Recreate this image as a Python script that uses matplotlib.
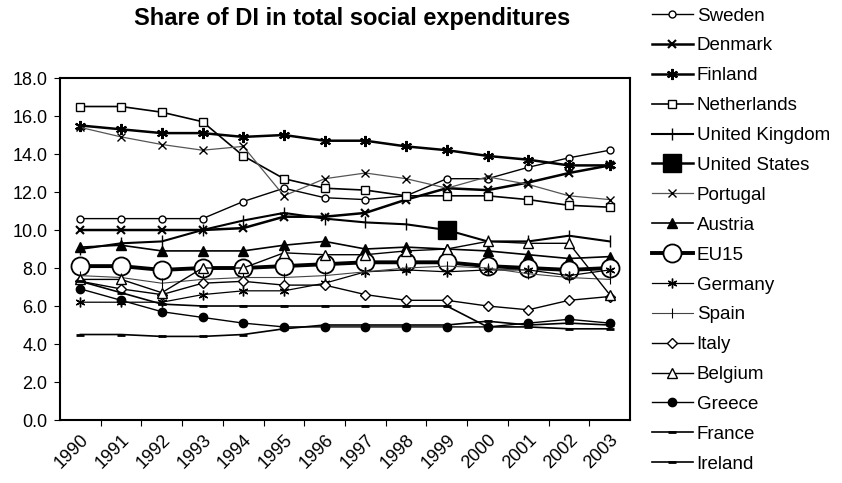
import matplotlib
matplotlib.use("Agg")
import matplotlib.pyplot as plt
import numpy as np

plt.rcParams['font.family'] = ['Liberation Sans', 'DejaVu Sans']

years = ['1990', '1991', '1992', '1993', '1994', '1995', '1996',
         '1997', '1998', '1999', '2000', '2001', '2002', '2003']

sweden = [10.6, 10.6, 10.6, 10.6, 11.5, 12.2, 11.7, 11.6, 11.8, 12.7, 12.7, 13.3, 13.8, 14.2]
denmark = [10.0, 10.0, 10.0, 10.0, 10.1, 10.7, 10.7, 10.9, 11.6, 12.2, 12.1, 12.5, 13.0, 13.4]
finland = [15.5, 15.3, 15.1, 15.1, 14.9, 15.0, 14.7, 14.7, 14.4, 14.2, 13.9, 13.7, 13.4, 13.4]
netherlands = [16.5, 16.5, 16.2, 15.7, 13.9, 12.7, 12.2, 12.1, 11.8, 11.8, 11.8, 11.6, 11.3, 11.2]
united_kingdom = [9.0, 9.3, 9.4, 10.0, 10.5, 10.9, 10.6, 10.4, 10.3, 10.0, 9.4, 9.4, 9.7, 9.4]
united_states = [np.nan] * 9 + [10.0] + [np.nan] * 4
portugal = [15.4, 14.9, 14.5, 14.2, 14.4, 11.8, 12.7, 13.0, 12.7, 12.2, 12.8, 12.4, 11.8, 11.6]
austria = [9.1, 9.2, 8.9, 8.9, 8.9, 9.2, 9.4, 9.0, 9.1, 9.0, 8.9, 8.7, 8.5, 8.6]
eu15 = [8.1, 8.1, 7.9, 8.0, 8.0, 8.1, 8.2, 8.3, 8.3, 8.3, 8.1, 8.0, 7.9, 8.0]
germany = [6.2, 6.2, 6.2, 6.6, 6.8, 6.8, 7.2, 7.8, 7.9, 7.8, 7.9, 7.9, 7.6, 7.9]
spain = [7.6, 7.5, 7.2, 7.4, 7.5, 7.5, 7.6, 7.8, 8.0, 8.1, 8.0, 7.7, 7.5, 7.4]
italy = [7.3, 6.9, 6.6, 7.2, 7.3, 7.1, 7.1, 6.6, 6.3, 6.3, 6.0, 5.8, 6.3, 6.5]
belgium = [7.4, 7.4, 6.7, 8.0, 8.0, 8.8, 8.7, 8.7, 8.9, 9.0, 9.4, 9.3, 9.3, 6.6]
greece = [6.9, 6.3, 5.7, 5.4, 5.1, 4.9, 4.9, 4.9, 4.9, 4.9, 4.9, 5.1, 5.3, 5.1]
france = [7.3, 6.7, 6.1, 6.0, 6.0, 6.0, 6.0, 6.0, 6.0, 6.0, 4.9, 4.9, 4.8, 4.8]
ireland = [4.5, 4.5, 4.4, 4.4, 4.5, 4.8, 5.0, 5.0, 5.0, 5.0, 5.2, 5.0, 5.1, 5.0]

asterisk = (6, 2, 0)

# name, values, style
series = [
    ('Sweden', sweden, dict(marker='o', ms=5, mfc='white', lw=1.0)),
    ('Denmark', denmark, dict(marker='x', ms=6, mew=1.5, lw=1.8)),
    ('Finland', finland, dict(marker=asterisk, ms=8, mew=1.5, lw=1.8)),
    ('Netherlands', netherlands, dict(marker='s', ms=6, mfc='white', lw=1.2)),
    ('United Kingdom', united_kingdom, dict(marker='|', ms=8, mew=1.0, lw=1.5)),
    ('United States', united_states, dict(marker='s', ms=13, mfc='black', lw=1.8)),
    ('Portugal', portugal, dict(marker='x', ms=6, mew=1.0, lw=0.9, color='#555555', mec='black')),
    ('Austria', austria, dict(marker='^', ms=7, mfc='black', lw=1.2)),
    ('EU15', eu15, dict(marker='o', ms=13, mfc='white', lw=2.8, mew=1.3)),
    ('Germany', germany, dict(marker=asterisk, ms=7, mew=1.0, lw=0.9)),
    ('Spain', spain, dict(marker='|', ms=7, mew=0.8, lw=0.8, color='#444444')),
    ('Italy', italy, dict(marker='D', ms=5, mfc='white', lw=1.0)),
    ('Belgium', belgium, dict(marker='^', ms=7, mfc='white', lw=1.0)),
    ('Greece', greece, dict(marker='o', ms=6, mfc='black', lw=1.0)),
    ('France', france, dict(marker='_', ms=6, mew=2.0, lw=1.2)),
    ('Ireland', ireland, dict(marker='_', ms=6, mew=2.0, lw=1.2)),
]

fig = plt.figure(figsize=(8.42, 4.83), dpi=100)
ax = fig.add_axes([0.0713, 0.1304, 0.6770, 0.7081])

x = np.arange(len(years))
for name, vals, style in series:
    kw = dict(color='black', mec='black')
    kw.update(style)
    ax.plot(x, vals, label=name, **kw)

ax.set_xlim(-0.5, len(years) - 0.5)
ax.set_ylim(0, 18)
ax.set_yticks(np.arange(0, 18.1, 2))
ax.set_yticklabels([f'{v:.1f}' for v in np.arange(0, 18.1, 2)], fontsize=13)

# tick marks between categories, labels centred on the points
ax.set_xticks(np.arange(0.5, len(years) - 0.5, 1))
ax.set_xticklabels([])
ax.set_xticks(x, minor=True)
ax.set_xticklabels(years, minor=True, rotation=45, ha='right', rotation_mode='anchor', fontsize=13)
ax.tick_params(axis='x', which='minor', length=0, pad=8)
ax.tick_params(axis='x', which='major', length=4, direction='out')
ax.tick_params(axis='y', length=4, direction='out', pad=5)
for sp in ax.spines.values():
    sp.set_linewidth(1.5)

fig.text(0.418, 0.962, 'Share of DI in total social expenditures', ha='center', va='center',
         fontsize=17, fontweight='bold')

fig.legend(loc='upper left', bbox_to_anchor=(0.765, 1.0), frameon=False, fontsize=13.5,
           handlelength=2.2, handletextpad=0.2, labelspacing=0.68, borderaxespad=0)

fig.savefig('out.png', dpi=100)
